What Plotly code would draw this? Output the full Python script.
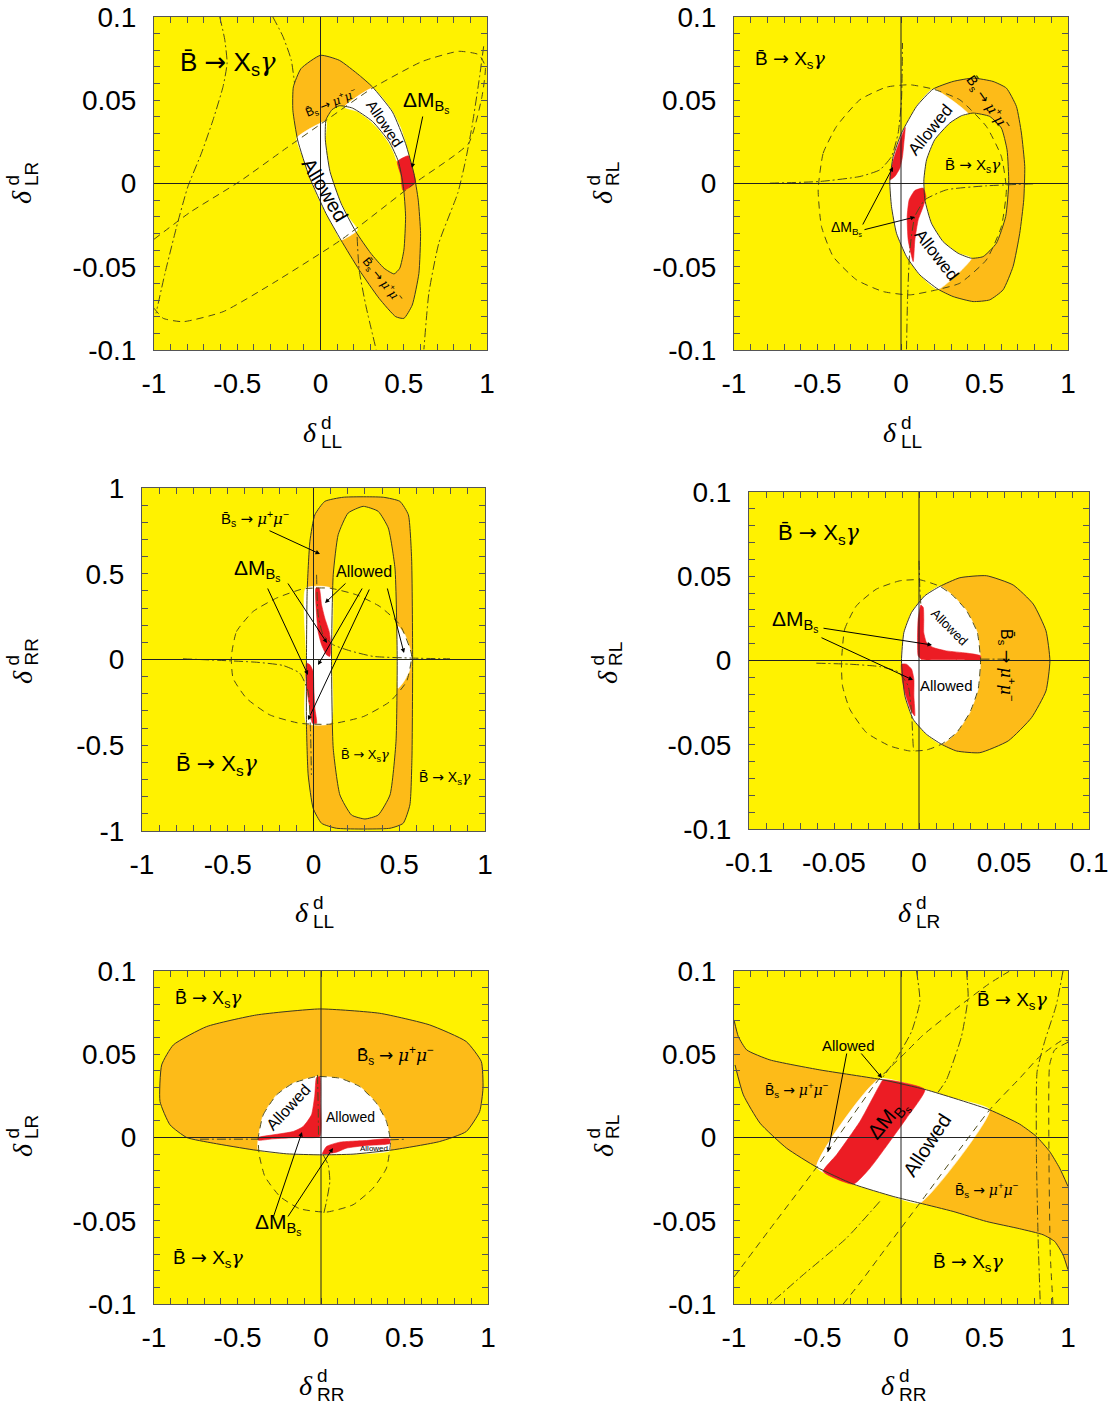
import numpy as np
import plotly.graph_objects as go

# ======================= DATA =======================
# ---- Panel 1 : x = delta_LL, y = delta_LR ----
p1_orange_outer = [[0.0, 0.077], [0.113, 0.074], [0.233, 0.065], [0.312, 0.058], [0.432, 0.043], [0.511, 0.024],
                   [0.561, 0.006], [0.587, -0.010], [0.601, -0.030], [0.591, -0.054], [0.551, -0.073], [0.501, -0.081],
                   [0.452, -0.080], [0.352, -0.069], [0.233, -0.052], [0.123, -0.034], [0.033, -0.018], [-0.067, 0.004],
                   [-0.137, 0.026], [-0.166, 0.044], [-0.163, 0.058], [-0.117, 0.069]]
p1_hole = [[0.069, 0.0443], [0.113, 0.0467], [0.192, 0.0453], [0.312, 0.0373], [0.412, 0.0252], [0.468, 0.0132],
           [0.498, -0.0018], [0.511, -0.0198], [0.501, -0.0399], [0.476, -0.0509], [0.442, -0.0543], [0.382, -0.0509],
           [0.302, -0.0419], [0.212, -0.0289], [0.123, -0.0118], [0.057, 0.0072], [0.029, 0.0263], [0.033, 0.0383]]
p1_allowed_a = [[-0.143, 0.0273], [-0.107, 0.0162], [-0.067, 0.0042], [-0.017, -0.0078], [0.033, -0.0178],
                [0.083, -0.0269], [0.123, -0.0339], [0.222, -0.0279], [0.172, -0.0208], [0.123, -0.0118],
                [0.083, -0.0018], [0.057, 0.0072], [0.037, 0.0182], [0.029, 0.0263], [0.033, 0.0373]]
p1_allowed_b = [[0.312, 0.0573], [0.372, 0.0513], [0.432, 0.0433], [0.482, 0.0333], [0.511, 0.0242], [0.527, 0.0166],
                [0.462, 0.0132], [0.442, 0.0182], [0.412, 0.0242], [0.352, 0.0323], [0.292, 0.0383], [0.222, 0.0433],
                [0.143, 0.0459]]
p1_dm = [[0.527, 0.0166], [0.551, 0.0092], [0.571, 0.0006], [0.496, -0.0042], [0.482, 0.0052], [0.462, 0.0132]]
p1_bsg_dash = [[-1.0, -0.0335], [-0.785, -0.0174], [-0.486, 0.0012], [-0.206, 0.0212], [0.033, 0.0379], [0.312, 0.0573],
               [0.611, 0.0733], [0.830, 0.0794], [0.950, 0.0774], [0.990, 0.0703], [0.970, 0.0523], [0.890, 0.0242],
               [0.571, 0.0006], [0.123, -0.0339], [-0.286, -0.0599], [-0.585, -0.0770], [-0.825, -0.0830],
               [-0.944, -0.0810], [-1.0, -0.0749]]
p1_bsg_dd_a = [[-0.605, 0.1], [-0.575, 0.0864], [-0.561, 0.0723], [-0.585, 0.0583], [-0.645, 0.0383], [-0.715, 0.0182],
               [-0.797, -0.0020], [-0.864, -0.0259], [-0.934, -0.0539], [-0.988, -0.0780]]
p1_bsg_dd_b = [[-0.286, 0.1], [-0.226, 0.0884], [-0.176, 0.0743], [-0.156, 0.0603]]
p1_bsg_dd_c = [[0.980, 0.0824], [0.950, 0.0603], [0.910, 0.0343], [0.872, 0.0142], [0.825, -0.0056], [0.711, -0.0357],
               [0.651, -0.0657], [0.621, -0.0996]]
p1_bsg_dd_d = [[0.220, -0.0321], [0.232, -0.0519], [0.274, -0.0741], [0.334, -0.0996]]

# ---- Panel 2 : x = delta_LL, y = delta_RL ----
p2_orange_outer = [[0.192, 0.0567], [0.312, 0.0613], [0.432, 0.0633], [0.551, 0.0613], [0.631, 0.0573], [0.691, 0.0463],
                   [0.721, 0.0303], [0.741, 0.0102], [0.735, -0.0098], [0.711, -0.0299], [0.671, -0.0499],
                   [0.611, -0.0639], [0.531, -0.0699], [0.432, -0.0709], [0.312, -0.0679], [0.222, -0.0635],
                   [0.113, -0.0549], [0.033, -0.0439], [-0.027, -0.0299], [-0.057, -0.0138], [-0.067, 0.0012],
                   [-0.047, 0.0162], [0.003, 0.0303], [0.093, 0.0463]]
p2_hole = [[0.432, 0.0423], [0.531, 0.0403], [0.601, 0.0333], [0.635, 0.0202], [0.645, 0.0002], [0.627, -0.0198],
           [0.571, -0.0359], [0.492, -0.0439], [0.422, -0.0449], [0.342, -0.0419], [0.252, -0.0349], [0.182, -0.0238],
           [0.143, -0.0098], [0.137, 0.0022], [0.153, 0.0142], [0.202, 0.0263], [0.292, 0.0363], [0.362, 0.0407]]
p2_allowed = [[0.192, 0.0567], [0.093, 0.0463], [0.003, 0.0303], [-0.047, 0.0162], [-0.067, 0.0012], [-0.057, -0.0138],
              [-0.027, -0.0299], [0.033, -0.0439], [0.113, -0.0549], [0.222, -0.0635], [0.422, -0.0449],
              [0.342, -0.0419], [0.252, -0.0349], [0.182, -0.0238], [0.143, -0.0098], [0.137, 0.0022],
              [0.153, 0.0142], [0.202, 0.0263], [0.292, 0.0363], [0.362, 0.0407], [0.402, 0.0419]]
p2_dm_a = [[0.025, 0.0337], [0.003, 0.0283], [-0.027, 0.0202], [-0.051, 0.0122], [-0.067, 0.0022], [-0.037, 0.0042],
           [-0.007, 0.0092], [0.009, 0.0162], [0.017, 0.0242]]
p2_dm_b = [[0.073, -0.0469], [0.043, -0.0339], [0.037, -0.0198], [0.049, -0.0098], [0.083, -0.0042], [0.133, -0.0028],
           [0.149, -0.0078], [0.133, -0.0138], [0.103, -0.0218], [0.083, -0.0339]]
p2_bsg_dash = [[-0.496, -0.0038], [-0.466, 0.0182], [-0.386, 0.0343], [-0.246, 0.0503], [-0.087, 0.0579], [0.053, 0.0593],
               [0.192, 0.0567], [0.352, 0.0503], [0.511, 0.0343], [0.601, 0.0162], [0.631, -0.0038], [0.601, -0.0259],
               [0.511, -0.0459], [0.352, -0.0599], [0.212, -0.0639], [0.053, -0.0669], [-0.107, -0.0649],
               [-0.266, -0.0579], [-0.406, -0.0439], [-0.476, -0.0259]]
p2_bsg_dd_a = [[-0.785, 0.0002], [-0.486, 0.0012], [-0.246, 0.0042], [-0.127, 0.0082], [-0.057, 0.0162], [-0.017, 0.0303],
               [0.003, 0.0503], [0.009, 0.0844]]
p2_bsg_dd_b = [[0.791, -0.0002], [0.511, -0.0014], [0.272, -0.0038], [0.143, -0.0098], [0.083, -0.0198], [0.053, -0.0399],
               [0.039, -0.0699], [0.033, -0.0996]]

# ---- Panel 3 : x = delta_LL, y = delta_RR ----
p3_orange_outer = [[-0.041, 0.008], [-0.037, 0.397], [-0.021, 0.689], [0.008, 0.844], [0.066, 0.922], [0.173, 0.946],
                   [0.407, 0.946], [0.504, 0.922], [0.553, 0.844], [0.572, 0.591], [0.578, 0.008], [0.574, -0.576],
                   [0.562, -0.848], [0.523, -0.955], [0.446, -0.984], [0.134, -0.984], [0.047, -0.955], [-0.002, -0.868],
                   [-0.031, -0.673], [-0.041, -0.381]]
p3_hole = [[0.105, 0.008], [0.115, 0.494], [0.144, 0.728], [0.202, 0.854], [0.290, 0.893], [0.377, 0.864], [0.436, 0.767],
           [0.475, 0.533], [0.488, 0.008], [0.481, -0.479], [0.446, -0.790], [0.377, -0.907], [0.300, -0.930],
           [0.222, -0.907], [0.154, -0.790], [0.115, -0.518]]
p3_allowed_a = [[-0.045, 0.416], [0.101, 0.416], [0.105, 0.008], [0.101, -0.372], [-0.041, -0.372], [-0.041, 0.008]]
p3_allowed_b = [[0.494, 0.193], [0.533, 0.144], [0.562, 0.066], [0.572, 0.008], [0.558, -0.070], [0.527, -0.128],
                [0.494, -0.167], [0.488, 0.008]]
p3_dm_a = [[0.014, 0.416], [0.033, 0.416], [0.047, 0.319], [0.066, 0.241], [0.091, 0.163], [0.101, 0.086], [0.095, 0.018],
           [0.076, 0.027], [0.047, 0.086], [0.027, 0.163], [0.018, 0.261]]
p3_dm_b = [[-0.041, -0.021], [-0.021, -0.031], [-0.002, -0.070], [0.002, -0.167], [0.008, -0.284], [0.018, -0.372],
           [-0.006, -0.372], [-0.021, -0.284], [-0.037, -0.187], [-0.045, -0.089]]
p3_bsg_dash = [[-0.479, 0.018], [-0.449, 0.163], [-0.352, 0.280], [-0.216, 0.358], [-0.060, 0.412], [0.095, 0.416],
               [0.251, 0.377], [0.387, 0.309], [0.504, 0.202], [0.572, 0.027], [0.543, -0.128], [0.446, -0.245],
               [0.290, -0.333], [0.095, -0.377], [-0.080, -0.372], [-0.255, -0.323], [-0.391, -0.226], [-0.469, -0.109]]
p3_bsg_dd_a = [[0.018, 0.494], [0.027, 0.261], [0.056, 0.144], [0.115, 0.086], [0.212, 0.051], [0.348, 0.018],
               [0.582, 0.008], [0.796, 0.004]]
p3_bsg_dd_b = [[-0.761, 0.004], [-0.333, -0.016], [-0.177, -0.035], [-0.080, -0.080], [-0.031, -0.187], [-0.018, -0.401],
               [-0.012, -0.673]]

# ---- Panel 4 : x = delta_LR, y = delta_RL ----
p4_orange = [[-0.0103, -0.0002], [-0.0089, 0.0166], [-0.0044, 0.0285], [0.0034, 0.0384], [0.0123, 0.0440], [0.0240, 0.0491],
             [0.0397, 0.0503], [0.0554, 0.0448], [0.0672, 0.0335], [0.0747, 0.0176], [0.0770, -0.0002], [0.0747, -0.0180],
             [0.0662, -0.0339], [0.0525, -0.0477], [0.0358, -0.0547], [0.0221, -0.0537], [0.0132, -0.0497],
             [0.0044, -0.0438], [-0.0034, -0.0349], [-0.0083, -0.0210]]
p4_allowed = [[0.0123, 0.0440], [0.0034, 0.0384], [-0.0044, 0.0285], [-0.0089, 0.0166], [-0.0103, -0.0002],
              [-0.0083, -0.0210], [-0.0034, -0.0349], [0.0044, -0.0438], [0.0132, -0.0497], [0.0221, -0.0428],
              [0.0299, -0.0309], [0.0348, -0.0170], [0.0362, -0.0002], [0.0343, 0.0166], [0.0280, 0.0295],
              [0.0201, 0.0384]]
p4_dm_a = [[0.0011, 0.0329], [-0.0005, 0.0246], [-0.0009, 0.0127], [-0.0005, 0.0028], [0.0015, 0.0006], [0.0123, 0.0004],
           [0.0280, 0.0002], [0.0362, 0.0002], [0.0362, 0.0028], [0.0280, 0.0044], [0.0162, 0.0057], [0.0083, 0.0077],
           [0.0044, 0.0107], [0.0028, 0.0166], [0.0028, 0.0246], [0.0025, 0.0315]]
p4_dm_b = [[-0.0103, -0.0022], [-0.0074, -0.0022], [-0.0044, -0.0051], [-0.0030, -0.0111], [-0.0030, -0.0210],
           [-0.0025, -0.0329], [-0.0050, -0.0289], [-0.0083, -0.0190], [-0.0099, -0.0111]]
p4_bsg_dash = [[-0.0456, -0.0012], [-0.0437, 0.0186], [-0.0368, 0.0325], [-0.0250, 0.0424], [-0.0113, 0.0473],
               [0.0005, 0.0479], [0.0123, 0.0440], [0.0201, 0.0384], [0.0280, 0.0295], [0.0343, 0.0166],
               [0.0362, -0.0002], [0.0348, -0.0170], [0.0299, -0.0309], [0.0221, -0.0428], [0.0132, -0.0497],
               [0.0044, -0.0531], [-0.0054, -0.0537], [-0.0172, -0.0507], [-0.0309, -0.0428], [-0.0407, -0.0289],
               [-0.0450, -0.0150]]
p4_bsg_dd_a = [[0.0000, 0.0592], [0.0005, 0.0424], [0.0011, 0.0329]]
p4_bsg_dd_b = [[-0.0604, -0.0016], [-0.0407, -0.0022], [-0.0231, -0.0036], [-0.0123, -0.0067], [-0.0064, -0.0150],
               [-0.0044, -0.0309], [-0.0034, -0.0507], [-0.0030, -0.0537]]
p4_bsg_dd_c = [[0.0362, 0.0008], [0.0515, 0.0008]]

# ---- Panel 5 : x = delta_RR, y = delta_LR ----
p5_orange = [[-0.964, 0.0216], [-0.954, 0.0436], [-0.884, 0.0556], [-0.685, 0.0666], [-0.386, 0.0736], [-0.007, 0.0772],
             [0.352, 0.0746], [0.651, 0.0676], [0.870, 0.0576], [0.960, 0.0456], [0.970, 0.0296], [0.950, 0.0156],
             [0.870, 0.0036], [0.711, -0.0024], [0.432, -0.0074], [0.192, -0.0100], [-0.007, -0.0104], [-0.206, -0.0098],
             [-0.406, -0.0074], [-0.645, -0.0034], [-0.804, 0.0000], [-0.904, 0.0076]]
p5_allowed = [[-0.376, -0.0074], [-0.376, -0.0004], [-0.346, 0.0136], [-0.266, 0.0256], [-0.167, 0.0326], [-0.027, 0.0366],
              [0.113, 0.0356], [0.232, 0.0306], [0.332, 0.0206], [0.392, 0.0096], [0.416, -0.0024], [0.412, -0.0080],
              [0.192, -0.0100], [-0.007, -0.0104], [-0.206, -0.0098]]
p5_dm_a = [[-0.027, 0.0360], [-0.007, 0.0366], [-0.003, 0.0196], [-0.007, 0.0006], [-0.147, 0.0000], [-0.286, -0.0008],
           [-0.376, -0.0016], [-0.376, 0.0000], [-0.286, 0.0016], [-0.167, 0.0036], [-0.107, 0.0066], [-0.057, 0.0136],
           [-0.037, 0.0256]]
p5_dm_b = [[0.009, -0.0098], [0.033, -0.0054], [0.113, -0.0028], [0.272, -0.0018], [0.412, -0.0010], [0.412, -0.0036],
           [0.272, -0.0048], [0.152, -0.0064], [0.093, -0.0088]]
p5_bsg_dash = [[-0.376, -0.0004], [-0.346, 0.0136], [-0.266, 0.0256], [-0.167, 0.0326], [-0.027, 0.0366], [0.113, 0.0356],
               [0.232, 0.0306], [0.332, 0.0206], [0.392, 0.0096], [0.416, -0.0024], [0.392, -0.0184], [0.312, -0.0304],
               [0.192, -0.0404], [0.033, -0.0448], [-0.127, -0.0428], [-0.246, -0.0354], [-0.336, -0.0234],
               [-0.370, -0.0104]]
p5_bsg_dd_a = [[-0.021, 0.0376], [-0.017, 0.0196], [-0.015, 0.0000]]
p5_bsg_dd_b = [[0.013, -0.0104], [0.043, -0.0164], [0.053, -0.0264], [0.033, -0.0384], [0.017, -0.0454]]
p5_bsg_dd_c = [[-0.725, -0.0010], [-0.376, -0.0010]]
p5_bsg_dd_d = [[0.412, -0.0014], [0.511, -0.0010]]

# ---- Panel 6 : x = delta_RR, y = delta_RL ----
p6_orange = [[-1.0, 0.0706], [-0.974, 0.0606], [-0.924, 0.0526], [-0.785, 0.0466], [-0.486, 0.0406], [-0.107, 0.0346],
             [0.153, 0.0286], [0.531, 0.0166], [0.711, 0.0080], [0.811, 0.0006], [0.890, -0.0084], [0.950, -0.0184],
             [1.0, -0.0294], [1.0, -0.0794], [0.970, -0.0704], [0.920, -0.0624], [0.851, -0.0584], [0.711, -0.0548],
             [0.511, -0.0504], [0.312, -0.0444], [0.113, -0.0394], [-0.047, -0.0354], [-0.286, -0.0280],
             [-0.505, -0.0178], [-0.685, -0.0064], [-0.844, 0.0086], [-0.944, 0.0256], [-0.994, 0.0436]]
p6_edge_upper = [[-1.0, 0.0706], [-0.974, 0.0606], [-0.924, 0.0526], [-0.785, 0.0466], [-0.486, 0.0406], [-0.107, 0.0346],
                 [0.153, 0.0286], [0.531, 0.0166], [0.711, 0.0080], [0.811, 0.0006], [0.890, -0.0084], [0.950, -0.0184],
                 [1.0, -0.0294]]
p6_edge_lower = [[1.0, -0.0794], [0.970, -0.0704], [0.920, -0.0624], [0.851, -0.0584], [0.711, -0.0548], [0.511, -0.0504],
                 [0.312, -0.0444], [0.113, -0.0394], [-0.047, -0.0354], [-0.286, -0.0280], [-0.505, -0.0178],
                 [-0.685, -0.0064], [-0.844, 0.0086], [-0.944, 0.0256], [-0.994, 0.0436]]
p6_allowed = [[-0.131, 0.0352], [0.153, 0.0286], [0.312, 0.0236], [0.531, 0.0166], [0.113, -0.0394], [-0.047, -0.0354],
              [-0.286, -0.0280], [-0.505, -0.0178]]
p6_dm = [[-0.107, 0.0346], [0.143, 0.0288], [0.033, 0.0116], [-0.067, -0.0024], [-0.186, -0.0184], [-0.286, -0.0280],
         [-0.466, -0.0204], [-0.386, -0.0104], [-0.246, 0.0096], [-0.127, 0.0316]]
p6_bsg_dash_a = [[-1.0, -0.0838], [-0.785, -0.0550], [-0.505, -0.0178], [-0.131, 0.0352], [0.033, 0.0516], [0.133, 0.0616],
                 [0.332, 0.0776], [0.531, 0.0926], [0.651, 0.1]]
p6_bsg_dash_b = [[-0.346, -0.1], [-0.246, -0.0874], [-0.087, -0.0660], [0.113, -0.0394], [0.531, 0.0166], [0.711, 0.0356],
                 [0.830, 0.0486], [0.970, 0.0586], [1.0, 0.0580]]
p6_bsg_dash_c = [[1.0, 0.0572], [0.920, 0.0526], [0.890, 0.0436], [0.886, -0.0104], [0.894, -0.0704], [0.910, -0.1]]
p6_bsg_dd_a = [[0.392, 0.1], [0.402, 0.0846], [0.362, 0.0606], [0.272, 0.0346], [0.222, 0.0272]]
p6_bsg_dd_b = [[-0.127, -0.0384], [-0.326, -0.0604], [-0.585, -0.0824], [-0.785, -0.1]]
p6_bsg_dd_c = [[0.970, 0.1], [0.930, 0.0796], [0.860, 0.0576], [0.815, 0.0396], [0.811, -0.0104], [0.821, -0.0604],
               [0.834, -0.1]]
p6_bsg_dd_d = [[0.093, 0.1], [0.113, 0.0816], [0.063, 0.0636], [-0.027, 0.0476], [-0.117, 0.0352]]

# axis ticks
ticks_unit = [-1, -0.5, 0, 0.5, 1]
ticks_unit_txt = ["-1", "-0.5", "0", "0.5", "1"]
ticks_tenth = [-0.1, -0.05, 0, 0.05, 0.1]
ticks_tenth_txt = ["-0.1", "-0.05", "0", "0.05", "0.1"]

# ======================= STYLE / LAYOUT =======================
W, H = 1116, 1408
YEL = "#FFF200"
ORA = "#FDBB18"
RED = "#EC1C24"
WHT = "#FFFFFF"
EDGE = "#3c3a22"
DASHC = "#4f4b18"
FONT = "Liberation Sans, Arial, sans-serif"

# plot-area boxes in pixels: left, right, top, bottom
boxes = {1: (154, 487, 17, 350), 2: (734, 1068, 17, 350), 3: (142, 485, 488, 831),
         4: (749, 1089, 492, 829), 5: (154, 488, 971, 1304), 6: (734, 1068, 971, 1304)}

fig = go.Figure()


def axn(i):
    return ("x" if i == 1 else f"x{i}", "y" if i == 1 else f"y{i}")


def pts_xy(pts, close=False):
    p = list(pts) + ([pts[0]] if close else [])
    return [q[0] for q in p], [q[1] for q in p]


def add_fill(i, pts, color, fill="toself", width=0.6, lcolor=None):
    xa, ya = axn(i)
    x, y = pts_xy(pts, close=True)
    fig.add_trace(go.Scatter(x=x, y=y, mode="lines", fill=fill, fillcolor=color,
                             line=dict(width=width, color=lcolor or color, shape="spline", smoothing=0.5),
                             xaxis=xa, yaxis=ya, hoverinfo="skip", showlegend=False))


def add_ring(i, outer, inner, color):
    xa, ya = axn(i)
    x, y = pts_xy(inner, close=True)
    fig.add_trace(go.Scatter(x=x, y=y, mode="lines", line=dict(width=0, color=color, shape="spline", smoothing=0.5),
                             xaxis=xa, yaxis=ya, hoverinfo="skip", showlegend=False))
    x, y = pts_xy(outer, close=True)
    fig.add_trace(go.Scatter(x=x, y=y, mode="lines", fill="tonext", fillcolor=color,
                             line=dict(width=0, color=color, shape="spline", smoothing=0.5),
                             xaxis=xa, yaxis=ya, hoverinfo="skip", showlegend=False))


def add_line(i, pts, dash="solid", color=EDGE, width=1.0, close=False):
    xa, ya = axn(i)
    x, y = pts_xy(pts, close=close)
    fig.add_trace(go.Scatter(x=x, y=y, mode="lines",
                             line=dict(width=width, color=color, dash=dash, shape="spline", smoothing=0.5),
                             xaxis=xa, yaxis=ya, hoverinfo="skip", showlegend=False))


DASH = "7px,5px"
DDOT = "9px,3px,2px,3px"

# ---- Panel 1
add_ring(1, p1_orange_outer, p1_hole, ORA)
add_fill(1, p1_allowed_a, WHT)
add_fill(1, p1_allowed_b, WHT)
add_fill(1, p1_dm, RED)
add_line(1, p1_orange_outer, close=True)
add_line(1, p1_hole, close=True)
add_line(1, p1_bsg_dash, DASH, DASHC)
for c in (p1_bsg_dd_a, p1_bsg_dd_b, p1_bsg_dd_c, p1_bsg_dd_d):
    add_line(1, c, DDOT, DASHC)

# ---- Panel 2
add_ring(2, p2_orange_outer, p2_hole, ORA)
add_fill(2, p2_allowed, WHT)
add_fill(2, p2_dm_a, RED)
add_fill(2, p2_dm_b, RED)
add_line(2, p2_orange_outer, close=True)
add_line(2, p2_hole, close=True)
add_line(2, p2_bsg_dash, DASH, DASHC, close=True)
for c in (p2_bsg_dd_a, p2_bsg_dd_b):
    add_line(2, c, DDOT, DASHC)

# ---- Panel 3
add_ring(3, p3_orange_outer, p3_hole, ORA)
add_fill(3, p3_allowed_a, WHT)
add_fill(3, p3_allowed_b, WHT)
add_fill(3, p3_dm_a, RED)
add_fill(3, p3_dm_b, RED)
add_line(3, p3_orange_outer, close=True)
add_line(3, p3_hole, close=True)
add_line(3, p3_bsg_dash, DASH, DASHC, close=True)
for c in (p3_bsg_dd_a, p3_bsg_dd_b):
    add_line(3, c, DDOT, DASHC)

# ---- Panel 4
add_fill(4, p4_orange, ORA)
add_fill(4, p4_allowed, WHT)
add_fill(4, p4_dm_a, RED)
add_fill(4, p4_dm_b, RED)
add_line(4, p4_orange, close=True)
add_line(4, p4_bsg_dash, DASH, DASHC, close=True)
for c in (p4_bsg_dd_a, p4_bsg_dd_b, p4_bsg_dd_c):
    add_line(4, c, DDOT, DASHC)

# ---- Panel 5
add_fill(5, p5_orange, ORA)
add_fill(5, p5_allowed, WHT)
add_fill(5, p5_dm_a, RED)
add_fill(5, p5_dm_b, RED)
add_line(5, p5_orange, close=True)
add_line(5, p5_bsg_dash, DASH, DASHC, close=True)
for c in (p5_bsg_dd_a, p5_bsg_dd_b, p5_bsg_dd_c, p5_bsg_dd_d):
    add_line(5, c, DDOT, DASHC)

# ---- Panel 6
add_fill(6, p6_orange, ORA)
add_fill(6, p6_allowed, WHT)
add_fill(6, p6_dm, RED)
add_line(6, p6_edge_upper)
add_line(6, p6_edge_lower)
for c in (p6_bsg_dash_a, p6_bsg_dash_b, p6_bsg_dash_c):
    add_line(6, c, DASH, DASHC)
for c in (p6_bsg_dd_a, p6_bsg_dd_b, p6_bsg_dd_c, p6_bsg_dd_d):
    add_line(6, c, DDOT, DASHC)

# ---- axes
ranges = {1: ((-1, 1), (-0.1, 0.1)), 2: ((-1, 1), (-0.1, 0.1)), 3: ((-1, 1), (-1, 1)),
          4: ((-0.1, 0.1), (-0.1, 0.1)), 5: ((-1, 1), (-0.1, 0.1)), 6: ((-1, 1), (-0.1, 0.1))}


def tickset(rng):
    if rng[1] == 1:
        return ticks_unit, ticks_unit_txt
    return ticks_tenth, ticks_tenth_txt


layout_axes = {}
shapes = []
for i, (l, r, t, b) in boxes.items():
    xr, yr = ranges[i]
    xd = [l / W, r / W]
    yd = [1 - b / H, 1 - t / H]
    xa, ya = axn(i)
    xk = "xaxis" if i == 1 else f"xaxis{i}"
    yk = "yaxis" if i == 1 else f"yaxis{i}"
    for key, dom, rng, anc, stand in ((xk, xd, xr, ya, 8), (yk, yd, yr, xa, 11)):
        tv, tt = tickset(rng)
        layout_axes[key] = dict(
            domain=dom, range=list(rng), anchor=anc, tickmode="array", tickvals=tv, ticktext=tt,
            ticks="inside", ticklen=6, tickwidth=1, tickcolor="#555", automargin=False,
            minor=dict(tickmode="array", tickvals=list(np.linspace(rng[0], rng[1], 21)),
                       ticks="inside", ticklen=6, tickwidth=1, tickcolor="#555", showgrid=False),
            showline=True, linecolor="#555", linewidth=1, mirror="ticks",
            showgrid=False, zeroline=False, layer="above traces", fixedrange=True,
            tickfont=dict(family=FONT, size=28, color="black"), ticklabelstandoff=stand)
    shapes.append(dict(type="line", xref=xa, yref=f"{ya} domain", x0=0, x1=0, y0=0, y1=1,
                       line=dict(color="#222", width=1), layer="above"))
    shapes.append(dict(type="line", xref=f"{xa} domain", yref=ya, x0=0, x1=1, y0=0, y1=0,
                       line=dict(color="#222", width=1), layer="above"))

# ---- annotations (pixel positions on the page)
ARR = '<span style="font-family:DejaVu Sans">\u2192</span>'
GAM = '<span style="font-family:DejaVu Serif"><i>\u03b3</i></span>'
MU = '<span style="font-family:DejaVu Serif"><i>\u03bc</i></span>'
BX = "B\u0304 " + ARR + " X<sub>s</sub>" + GAM
BMU = "B\u0304<sub>s</sub> " + ARR + " " + MU + "<sup>+</sup>" + MU + "<sup>\u2212</sup>"
DM = "\u0394M<sub>B<sub>s</sub></sub>"
AL = "Allowed"

labels = [
    # panel 1
    (BX, 228, 63, 26, 0), (DM, 426, 102, 21, 0), (AL, 325, 190, 20, 59), (AL, 385, 123, 15, 56),
    (BMU, 331, 103, 12, -22), (BMU, 382, 280, 12, 51),
    # panel 2
    (BX, 790, 60, 19, 0), (BX, 972, 165, 15, 0), (AL, 931, 130, 17, -51), (AL, 937, 255, 17, 52),
    (DM, 847, 229, 14, 0), (BMU, 988, 103, 14, 55),
    # panel 3
    (BMU, 255, 518, 15, 0), (DM, 257, 570, 21, 0), (AL, 364, 571, 16, 0), (BX, 217, 765, 22, 0),
    (BX, 365, 755, 13, 0), (BX, 445, 778, 14, 0),
    # panel 4
    (BX, 819, 534, 22, 0), (DM, 795, 621, 21, 0), (AL, 950, 627, 13, 45), (AL, 946, 685, 15, 0),
    (BMU, 1007, 665, 16, 90),
    # panel 5
    (BX, 208, 999, 18, 0), (BX, 208, 1258, 19, 0), (BMU, 395, 1055, 17, 0), (AL, 288, 1107, 16, -47),
    (AL, 350, 1117, 14, 0), (AL, 374, 1148, 8, 0), (DM, 278, 1224, 21, 0),
    # panel 6
    (BX, 1012, 1000, 19, 0), (BX, 968, 1262, 19, 0), (AL, 848, 1045, 15, 0), (BMU, 797, 1090, 14, 0),
    (BMU, 987, 1190, 14, 0), (DM, 888, 1120, 21, -50), (AL, 927, 1145, 20, -57),
]

arrows = [  # (tail_x, tail_y, head_x, head_y) in pixels
    (423, 115, 412, 168),
    (862, 226, 893, 167), (863, 230, 915, 217),
    (268, 530, 320, 554), (267, 587, 308, 675), (287, 582, 327, 643), (347, 582, 325, 603),
    (363, 587, 318, 665), (370, 588, 308, 720), (387, 587, 404, 653),
    (822, 628, 932, 645), (820, 637, 913, 680),
    (273, 1218, 302, 1132), (287, 1218, 333, 1148),
    (847, 1052, 828, 1152), (860, 1052, 882, 1078),
]

# axis titles: (subscript, delta centre x, y, rotated?)
titles = [
    ("LL", 310, 432, False), ("LR", 22, 197, True),
    ("LL", 890, 432, False), ("RL", 603, 197, True),
    ("LL", 302, 912, False), ("RR", 22, 677, True),
    ("LR", 905, 912, False), ("RL", 607, 677, True),
    ("RR", 306, 1385, False), ("LR", 22, 1150, True),
    ("RR", 888, 1385, False), ("RL", 603, 1150, True),
]


def px(x, y):
    return x / W, 1 - y / H


annotations = []
for txt, x, y, s, ang in labels:
    X, Y = px(x, y)
    annotations.append(dict(text=txt, x=X, y=Y, xref="paper", yref="paper", showarrow=False,
                            xanchor="center", yanchor="middle", textangle=ang,
                            font=dict(family=FONT, size=s, color="black")))
for tx, ty, hx, hy in arrows:
    X, Y = px(hx, hy)
    annotations.append(dict(text="", x=X, y=Y, xref="paper", yref="paper", showarrow=True,
                            ax=tx - hx, ay=ty - hy, axref="pixel", ayref="pixel",
                            arrowhead=2, arrowsize=0.9, arrowwidth=1, arrowcolor="black"))

DFONT = "Liberation Serif, DejaVu Serif, serif"
for sub, x, y, rot in titles:
    if not rot:
        items = [("<i>\u03b4</i>", x, y, 28, DFONT, "center", "middle", 0),
                 ("d", x + 9, y - 10, 19, FONT, "left", "middle", 0),
                 (sub, x + 9, y + 9, 19, FONT, "left", "middle", 0)]
    else:
        items = [("<i>\u03b4</i>", x, y, 28, DFONT, "center", "middle", -90),
                 ("d", x - 10, y - 9, 19, FONT, "center", "bottom", -90),
                 (sub, x + 9, y - 9, 19, FONT, "center", "bottom", -90)]
    for t, xx, yy, s, fam, xan, yan, ang in items:
        X, Y = px(xx, yy)
        annotations.append(dict(text=t, x=X, y=Y, xref="paper", yref="paper", showarrow=False,
                                xanchor=xan, yanchor=yan, textangle=ang,
                                font=dict(family=fam, size=s, color="black")))

fig.update_layout(width=W, height=H, margin=dict(l=0, r=0, t=0, b=0, autoexpand=False), autosize=False,
                  paper_bgcolor="white", plot_bgcolor=YEL, showlegend=False,
                  shapes=shapes, annotations=annotations, **layout_axes)

fig.write_html("out.html", config={"displayModeBar": False, "staticPlot": True},
               post_script="document.body.style.margin='0';document.body.style.padding='0';")
